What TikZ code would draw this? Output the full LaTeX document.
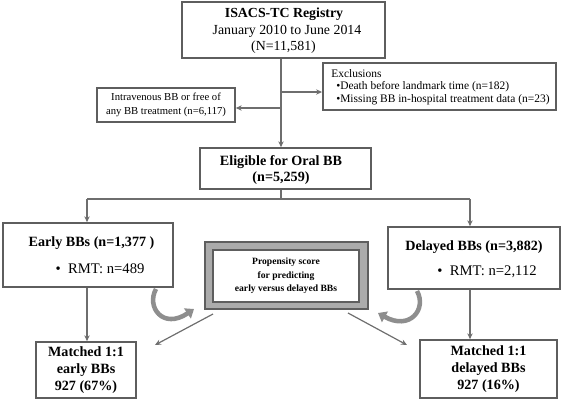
\documentclass[tikz,border=0pt]{standalone}
\usepackage{fontspec}
\setmainfont{Liberation Serif}
\usetikzlibrary{arrows.meta}
\definecolor{boxgray}{HTML}{5E5E5E}
\definecolor{linegray}{HTML}{6E6E6E}
\definecolor{bandgray}{HTML}{ABABAB}
\definecolor{curvegray}{HTML}{8E8E8E}
\begin{document}
\begin{tikzpicture}[x=0.75pt,y=-0.75pt,
  box/.style={draw=boxgray, line width=1.1pt, fill=white, inner sep=0pt, align=center},
  txt/.style={inner sep=0pt, align=center},
  arr/.style={draw=linegray, line width=0.9pt, -{Stealth[length=4.5pt,width=4pt]}},
  ln/.style={draw=linegray, line width=0.9pt},
  curv/.style={draw=curvegray, line width=3.4pt, -{Triangle[length=6pt,width=9pt]}},
  big/.style={font=\fontsize{10.4}{12.6}\selectfont},
  bigb/.style={font=\fontsize{10.6}{12.6}\selectfont\bfseries},
  small/.style={font=\fontsize{8.6}{9.8}\selectfont},
]
\useasboundingbox (0,0) rectangle (562,400);

% boxes
\node[box, minimum width=152.25pt, minimum height=42pt] (top) at (283.5,30) {};
\node[txt, big, font=\fontsize{10.4}{12.6}\selectfont\bfseries] (t1) at (284,14) {ISACS-TC Registry};
\node[txt, big] (t2) at (287,31) {January 2010 to June 2014};
\node[txt, big] (t3) at (283.5,47) {(N=11,581)};

\node[box, minimum width=103.5pt, minimum height=25.5pt, font=\fontsize{8}{10.3}\selectfont] (iv) at (166,105)
  {Intravenous BB or free of\\any BB treatment (n=6,117)};

\node[box, minimum width=174.75pt, minimum height=35.25pt, line width=1.4pt] (ex) at (439.5,86.5) {};
\node[txt, small, anchor=west] (ex1) at (331,74) {Exclusions};
\node[txt, small, anchor=west] (ex2) at (336,87) {•Death before landmark time (n=182)};
\node[txt, small, anchor=west] (ex3) at (336,100) {•Missing BB in-hospital treatment data (n=23)};

\node[box, minimum width=128.25pt, minimum height=30.75pt] (el) at (285.5,168.5) {};
\node[txt, bigb] (el1) at (281,162) {Eligible for Oral BB};
\node[txt, bigb] (el2) at (281,178) {(n=5,259)};

\node[box, minimum width=127.5pt, minimum height=48pt] (early) at (88,255) {};
\node[txt, bigb] (early1) at (91.5,243) {Early BBs (n=1,377 )};
\node[txt, font=\fontsize{11}{12}\selectfont] (early2) at (100,269) {•\hspace{0.5em}RMT: n=489};

\node[box, minimum width=129pt, minimum height=46.5pt] (del) at (474,258) {};
\node[txt, bigb] (del1) at (474,247) {Delayed BBs (n=3,882)};
\node[txt, font=\fontsize{11}{12}\selectfont] (del2) at (487,272) {•\hspace{0.5em}RMT: n=2,112};

\node[draw=boxgray, line width=1pt, fill=bandgray, minimum width=122.25pt, minimum height=50.25pt, inner sep=0pt] (ps) at (286.5,275.5) {};
\node[box, line width=1pt, minimum width=109.5pt, minimum height=39pt, font=\fontsize{7.2}{10.1}\selectfont\bfseries] (psi) at (286,276)
  {Propensity score\\for predicting\\early versus delayed BBs};

\node[box, minimum width=75pt, minimum height=42pt, font=\fontsize{10.6}{12.7}\selectfont\bfseries] (me) at (86,370)
  {Matched 1:1\\early BBs\\927 (67\%)};
\node[box, minimum width=102.75pt, minimum height=43.5pt, font=\fontsize{10.6}{12.7}\selectfont\bfseries] (md) at (488.5,369)
  {Matched 1:1\\delayed BBs\\927 (16\%)};

% connectors
\coordinate (bIV) at (281,108);
\coordinate (bEX) at (281,92);
\coordinate (bEL) at (281,199);
\coordinate (lEL) at (87,199);
\coordinate (rEL) at (470,199);
\coordinate (psL) at (213,314);
\coordinate (psR) at (348,313);
\coordinate (meT) at (155,345);
\coordinate (mdT) at (407,345);

\draw[arr] (top.south -| bIV) -- (el.north -| bIV);
\draw[arr] (bIV) -- (iv.east |- bIV);
\draw[arr] (bEX) -- (ex.west |- bEX);
\draw[ln] (el.south -| bEL) -- (bEL);
\draw[ln] (lEL) -- (rEL);
\draw[arr] (lEL) -- (early.north -| lEL);
\draw[arr] (rEL) -- (del.north -| rEL);
\draw[arr] (early.south -| lEL) -- (me.north -| lEL);
\draw[arr] (del.south -| rEL) -- (md.north -| rEL);
\draw[arr] (psL) -- (meT);
\draw[arr] (psR) -- (mdT);

% curved arrows
\draw[curv] (156,289) .. controls (146,307) and (163,330) .. (194,309);
\draw[curv] (417,291) .. controls (427,309) and (410,331) .. (378,313);
\end{tikzpicture}
\end{document}
